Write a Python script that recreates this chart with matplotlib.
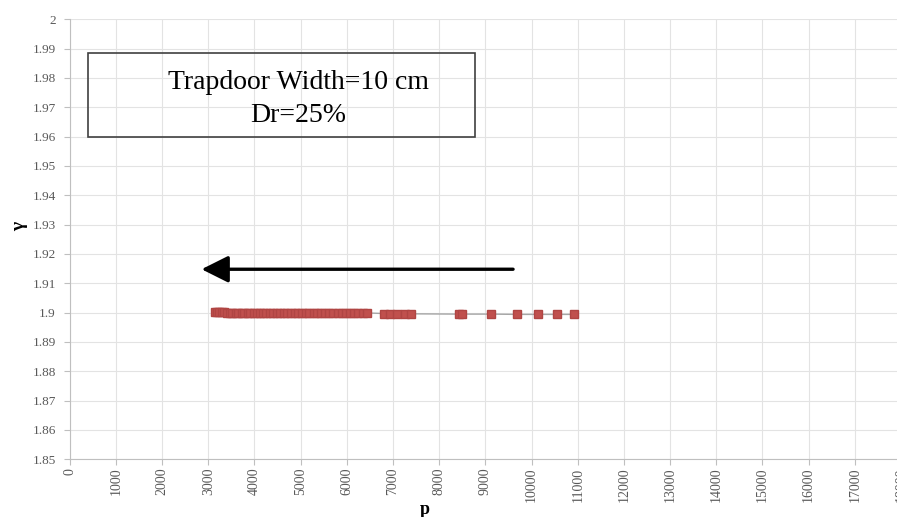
import numpy as np
import matplotlib
matplotlib.use("Agg")
from matplotlib import pyplot as plt
from matplotlib.patches import Rectangle

# data
p_dense = [3140, 3190, 3240, 3300, 3350, 3410, 3470, 3520, 3590, 3650,
           3720, 3780, 3850, 3910, 3980, 4050, 4120, 4190, 4260, 4330,
           4410, 4480, 4560, 4640, 4710, 4790, 4870, 4950, 5030, 5110,
           5190, 5280, 5360, 5450, 5530, 5620, 5710, 5800, 5890, 5980,
           6070, 6160, 6250, 6340, 6440]
gamma_dense = [1.9001, 1.9001, 1.9001, 1.9001, 1.9001, 1.9000, 1.9000, 1.9000, 1.9000, 1.9000,
               1.9000, 1.9000, 1.9000, 1.9000, 1.9000, 1.9000, 1.9000, 1.9000, 1.9000, 1.9000,
               1.9000, 1.9000, 1.9000, 1.9000, 1.9000, 1.9000, 1.9000, 1.9000, 1.9000, 1.9000,
               1.8999, 1.8999, 1.8999, 1.8999, 1.8999, 1.8999, 1.8999, 1.8999, 1.8999, 1.8999,
               1.8999, 1.8999, 1.8999, 1.8999, 1.8999]
p_tail = [6800, 6930, 7080, 7250, 7380, 8430, 8500, 9130, 9675, 10140, 10560, 10915]
gamma_tail = [1.8997, 1.8997, 1.8996, 1.8996, 1.8996, 1.8995, 1.8995, 1.8995, 1.8994, 1.8994, 1.8994, 1.8994]

p_all = p_dense + p_tail
gamma_all = gamma_dense + gamma_tail

x_ticks = list(range(0, 18001, 1000))
y_ticks = [1.85, 1.86, 1.87, 1.88, 1.89, 1.9, 1.91, 1.92, 1.93, 1.94, 1.95, 1.96, 1.97, 1.98, 1.99, 2]

serif = "Liberation Serif"
grey_txt = "#595959"

fig = plt.figure(figsize=(8.97, 5.17), dpi=100)
ax = fig.add_axes([0.0777, 0.1116, 0.9268, 0.851])

ax.plot(p_all, gamma_all, color="#a6a6a6", lw=1, zorder=2)
ax.plot(p_all, gamma_all, linestyle="none", marker="s", markersize=5.5,
        color="#c0504d", markeredgecolor="#b04543", zorder=3)

ax.set_xlim(0, 18000)
ax.set_ylim(1.85, 2.0)
ax.set_xticks(x_ticks)
ax.set_yticks(y_ticks)
ax.set_xticklabels([str(v) for v in x_ticks], rotation=90, va="top", ha="center",
                   fontfamily=serif, fontsize=10, color=grey_txt)
ax.set_yticklabels(["%g" % v for v in y_ticks], fontfamily=serif, fontsize=9.5, color=grey_txt)
ax.grid(True, color="#e3e3e3", lw=0.8, zorder=0)
ax.set_axisbelow(True)
for s in ["top", "right"]:
	ax.spines[s].set_visible(False)
for s in ["left", "bottom"]:
	ax.spines[s].set_color("#bfbfbf")
ax.tick_params(axis="y", length=4, color="#bfbfbf", pad=6)
ax.tick_params(axis="x", length=4, color="#bfbfbf", pad=2)

ax.set_xlabel("p", fontfamily=serif, fontsize=13, fontweight="bold", va="center")
ax.xaxis.set_label_coords(0.4274, -0.114)
ax.set_ylabel("γ", fontfamily=serif, fontsize=14, fontweight="bold", va="center")
ax.yaxis.set_label_coords(-0.060, 0.53)

# text box
ax.add_patch(Rectangle((403, 1.95997), 8370, 0.02864, fill=False,
                       edgecolor="#404040", lw=1.2, zorder=4))
ax.text(4952, 1.97862, "Trapdoor Width=10 cm", fontfamily=serif, fontsize=20,
        ha="center", va="center", zorder=5)
ax.text(4952, 1.96737, "Dr=25%", fontfamily=serif, fontsize=20,
        ha="center", va="center", zorder=5)

# arrow
ax.annotate("", xy=(2855, 1.9148), xytext=(9600, 1.9148),
            arrowprops=dict(arrowstyle="-|>,head_length=1.1,head_width=0.55",
                            mutation_scale=15, lw=2.4, color="black",
                            shrinkA=0, shrinkB=0), zorder=5)

fig.savefig("out.png", dpi=100)
